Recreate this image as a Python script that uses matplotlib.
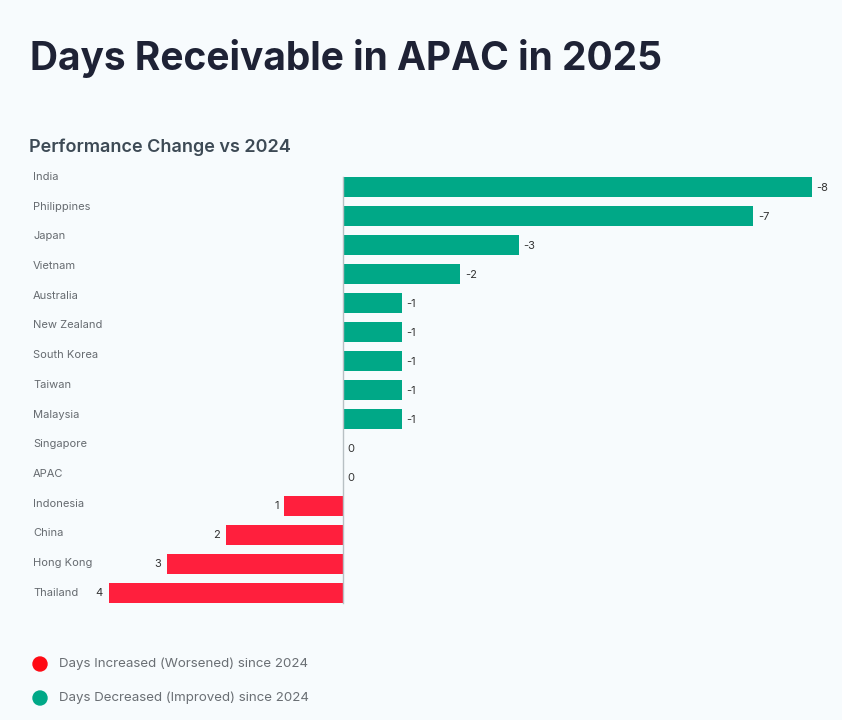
import numpy as np
import matplotlib
matplotlib.use("Agg")
from matplotlib import pyplot as plt
from matplotlib import transforms
from matplotlib.patches import Ellipse

plt.rcParams['font.family'] = ['Inter', 'DejaVu Sans']

# Data: change in days receivable vs 2024 (negative = improvement)
countries = ["India", "Philippines", "Japan", "Vietnam", "Australia", "New Zealand",
             "South Korea", "Taiwan", "Malaysia", "Singapore", "APAC", "Indonesia",
             "China", "Hong Kong", "Thailand"]
changes = [-8, -7, -3, -2, -1, -1, -1, -1, -1, 0, 0, 1, 2, 3, 4]

legend_labels = ["Days Increased (Worsened) since 2024", "Days Decreased (Improved) since 2024"]

BG = "#f7fbfd"
GREEN = "#00a887"
RED = "#ff1f3d"
W, H = 842, 720

fig = plt.figure(figsize=(W / 100, H / 100), dpi=100, facecolor=BG)

# axes placed so that 0 sits at x=343px, one day ~58.6px
left_px, right_px = 108.6, 811.8
top_px, bottom_px = 172.5, 607.5
ax = fig.add_axes([left_px / W, 1 - bottom_px / H,
                   (right_px - left_px) / W, (bottom_px - top_px) / H])
ax.set_facecolor(BG)

y = np.arange(len(countries))
x = -np.array(changes)
colors = [GREEN if c < 0 else RED for c in changes]
ax.barh(y, x, height=0.66, color=colors, zorder=2)
ax.set_xlim(-4, 8)
ax.set_ylim(len(countries) - 0.5, -0.5)
ax.axvline(0, color="#b8c0c4", lw=1, ymin=0.01, ymax=0.99, zorder=3)
for s in ax.spines.values():
    s.set_visible(False)
ax.set_xticks([])
ax.set_yticks([])

# value labels
for yi, xi, c in zip(y, x, changes):
    if c > 0:
        ax.text(xi - 0.1, yi, str(c), ha="right", va="center", fontsize=8,
                color="#333333", clip_on=False)
    else:
        ax.text(xi + 0.08, yi + 0.02, str(c), ha="left", va="center",
                fontsize=8, color="#333333", clip_on=False)

# category labels, slightly above each bar at the top and drifting down the list
trans = transforms.blended_transform_factory(fig.transFigure, ax.transData)
for i, name in enumerate(countries):
    ax.text(33 / W, i + (-10 + 0.7 * i) / 29, name, transform=trans, ha="left",
            va="center", fontsize=8, color="#666b70")

fig.text(30 / W, 1 - 58 / H, "Days Receivable in APAC in 2025", fontsize=28,
         fontweight="bold", color="#1e2235", ha="left", va="center")
fig.text(29 / W, 1 - 147 / H, "Performance Change vs 2024", fontsize=13,
         fontweight="semibold", color="#3d4a55", ha="left", va="center")

# legend
for ly, lab, col in zip([664, 698], legend_labels, ["#ff0a14", GREEN]):
    fig.add_artist(Ellipse((40 / W, 1 - ly / H), 14 / W, 14 / H,
                           transform=fig.transFigure, color=col, zorder=5))
    fig.text(59 / W, 1 - ly / H, lab, fontsize=9.6, color="#6a6f74", ha="left", va="center")

fig.savefig("out.png", dpi=100, facecolor=BG)
